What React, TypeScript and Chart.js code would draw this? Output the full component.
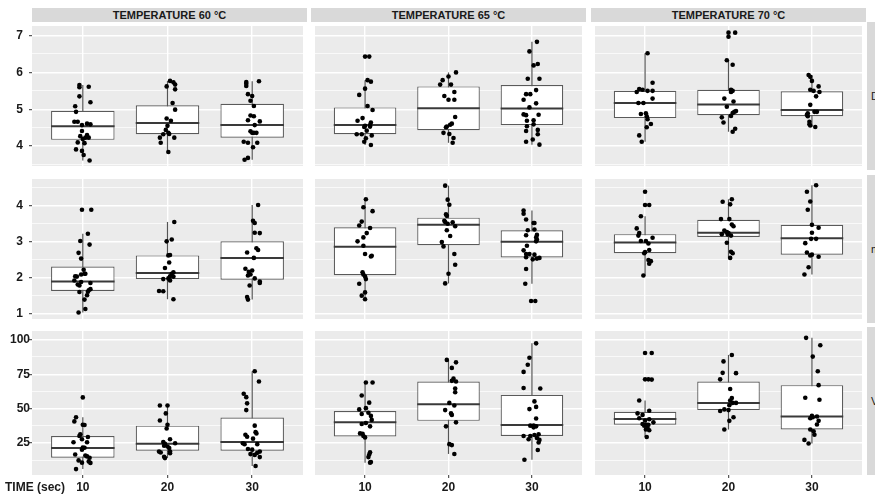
import React, { useEffect, useRef } from 'react';
import { Chart, registerables } from 'chart.js';
Chart.register(...registerables);

// ---------- labels ----------
const TIMES = ['10', '20', '30'];
const TEMPS = ['TEMPERATURE 60 °C', 'TEMPERATURE 65 °C', 'TEMPERATURE 70 °C'];
const ROW_LABELS = ['D', 'm', 'V'];
const X_TITLE = 'TIME (sec)';

// ---------- tick values ----------
const D_MAJOR = [4, 5, 6, 7];
const D_MINOR = [3.5, 4.5, 5.5, 6.5];
const M_MAJOR = [1, 2, 3, 4];
const M_MINOR = [1.5, 2.5, 3.5, 4.5];
const V_MAJOR = [25, 50, 75, 100];
const V_MINOR = [12.5, 37.5, 62.5, 87.5];

// ---------- box stats [lower whisker, q1, median, q3, upper whisker] for 10 / 20 / 30 s ----------
const D60_BOX = [[3.61, 4.17, 4.54, 4.96, 5.66], [3.84, 4.32, 4.63, 5.11, 5.77], [3.63, 4.23, 4.57, 5.15, 5.76]];
const D65_BOX = [[4.03, 4.32, 4.57, 5.05, 5.79], [4.09, 4.43, 5.03, 5.62, 6.0], [4.04, 4.57, 5.02, 5.66, 6.83]];
const D70_BOX = [[4.12, 4.76, 5.17, 5.50, 6.52], [4.39, 4.84, 5.13, 5.53, 6.33], [4.52, 4.81, 4.98, 5.49, 5.93]];
const M60_BOX = [[1.03, 1.63, 1.89, 2.31, 3.22], [1.40, 1.96, 2.13, 2.62, 3.55], [1.39, 1.94, 2.55, 3.01, 4.02]];
const M65_BOX = [[1.40, 2.07, 2.86, 3.40, 4.18], [1.84, 2.90, 3.47, 3.67, 4.56], [1.83, 2.56, 3.00, 3.32, 3.87]];
const M70_BOX = [[2.06, 2.68, 2.98, 3.21, 3.71], [2.55, 3.13, 3.25, 3.61, 4.18], [2.09, 2.64, 3.10, 3.47, 4.57]];
const V60_BOX = [[6.2, 14.4, 21.5, 30.2, 43.8], [14.2, 19.6, 24.5, 37.7, 52.3], [8.5, 19.6, 25.9, 43.6, 77.2]];
const V65_BOX = [[10.9, 29.9, 40.1, 48.3, 69.0], [17.2, 41.2, 53.2, 69.7, 85.4], [13.0, 30.2, 38.2, 60.0, 97.4]];
const V70_BOX = [[29.5, 38.4, 42.6, 47.8, 56.0], [34.9, 49.0, 54.2, 69.7, 89.0], [24.8, 34.9, 44.3, 67.1, 101.4]];

// ---------- observations (values) and their horizontal jitter (category units) ----------
const D60_Y = [
  [5.66, 5.60, 5.61, 5.35, 5.19, 5.08, 4.93, 4.66, 4.66, 4.61, 4.57, 4.59, 4.41, 4.27, 4.30, 4.23, 4.19, 4.23, 4.10, 4.08, 3.91, 3.87, 3.76, 3.61],
  [5.77, 5.73, 5.67, 5.62, 5.54, 5.17, 4.99, 4.75, 4.69, 4.55, 4.44, 4.32, 4.36, 4.33, 4.23, 4.23, 4.09, 3.84],
  [5.74, 5.69, 5.63, 5.76, 5.41, 5.36, 5.23, 5.09, 4.83, 4.81, 4.70, 4.67, 4.57, 4.40, 4.36, 4.36, 4.36, 4.12, 4.09, 4.09, 3.97, 3.68, 3.63],
];
const D60_J = [
  [-0.04, -0.04, 0.07, -0.04, 0.09, -0.09, -0.08, -0.1, -0.06, 0.05, -0.01, 0.09, -0.01, -0.03, 0.05, 0.03, 0, 0.07, -0.06, 0.02, -0.08, -0.01, 0.01, 0.08],
  [0.03, 0.07, 0.09, -0.01, 0.09, 0.06, 0.09, -0.01, 0.04, 0, -0.02, -0.05, 0.01, 0.02, -0.09, 0.08, -0.08, 0.01],
  [-0.07, -0.07, -0.07, 0.08, -0.05, 0, -0.02, 0.02, -0.02, 0.02, -0.05, 0.09, 0.03, -0.02, 0, 0.05, 0.02, -0.10, -0.05, 0.06, 0.01, -0.05, -0.09],
];
const D65_Y = [
  [6.43, 6.43, 5.79, 5.75, 5.56, 5.39, 5.09, 4.98, 4.76, 4.69, 4.64, 4.57, 4.55, 4.52, 4.53, 4.42, 4.29, 4.32, 4.32, 4.21, 4.12, 4.03],
  [6.0, 5.89, 5.79, 5.67, 5.67, 5.47, 5.36, 5.26, 5.26, 4.79, 4.61, 4.58, 4.53, 4.51, 4.36, 4.33, 4.22, 4.09],
  [6.83, 6.57, 6.19, 6.23, 5.83, 5.83, 5.52, 5.41, 5.41, 5.26, 5.16, 5.05, 4.86, 4.84, 4.85, 4.70, 4.69, 4.54, 4.59, 4.44, 4.41, 4.32, 4.18, 4.12, 4.04],
];
const D65_J = [
  [0, 0.05, 0.03, 0.07, 0, -0.07, 0.03, 0.09, -0.03, -0.09, 0.07, 0.06, 0, -0.01, 0.06, 0.02, 0.08, -0.10, -0.04, 0.01, -0.01, 0.07],
  [0.09, 0, -0.07, -0.1, 0.03, 0.07, -0.05, 0, 0.07, 0.08, 0.04, 0.02, -0.02, -0.03, -0.06, 0.01, 0.06, 0.05],
  [0.06, -0.03, 0.02, 0.07, -0.05, 0.09, 0.05, -0.02, -0.07, -0.10, 0.05, -0.03, -0.10, -0.07, 0.08, 0.02, -0.06, -0.06, 0.02, 0.07, -0.07, 0.07, 0.01, -0.07, 0.09],
];
const D70_Y = [
  [6.52, 5.72, 5.55, 5.53, 5.47, 5.50, 5.50, 5.29, 5.17, 5.17, 4.87, 4.89, 4.81, 4.73, 4.60, 4.51, 4.29, 4.12],
  [7.08, 7.08, 6.97, 6.33, 6.21, 5.53, 5.50, 5.47, 5.29, 5.21, 5.07, 4.95, 4.93, 4.90, 4.82, 4.78, 4.64, 4.47, 4.39],
  [5.93, 5.88, 5.77, 5.62, 5.53, 5.50, 5.47, 5.35, 5.12, 4.93, 4.93, 4.89, 4.85, 4.81, 4.66, 4.59, 4.56, 4.52],
];
const D70_J = [
  [0.03, 0.09, -0.07, -0.03, -0.10, 0.03, 0.09, 0.09, -0.08, -0.02, -0.05, 0.01, 0.02, 0.03, 0.07, 0.02, -0.07, -0.04],
  [0, 0.08, 0, -0.02, 0.05, 0.03, 0.05, 0.03, -0.05, 0.06, -0.02, 0.09, 0.07, 0.05, 0.03, -0.08, -0.06, 0.08, 0.05],
  [-0.04, -0.02, 0, 0.08, -0.02, 0.02, 0.09, 0.05, -0.02, 0.03, 0.06, -0.05, -0.06, -0.05, -0.03, -0.03, -0.02, 0.04],
];
const M60_Y = [
  [3.89, 3.89, 3.22, 3.02, 2.92, 2.69, 2.53, 2.22, 2.11, 2.09, 2.11, 2.04, 2.03, 1.92, 1.88, 1.85, 1.81, 1.78, 1.65, 1.68, 1.60, 1.61, 1.51, 1.39, 1.13, 1.03],
  [3.55, 3.06, 3.01, 2.63, 2.62, 2.42, 2.27, 2.15, 2.11, 2.04, 2.03, 1.96, 1.98, 1.92, 1.63, 1.62, 1.40],
  [4.02, 3.58, 3.52, 3.25, 3.24, 2.82, 2.77, 2.70, 2.55, 2.25, 2.20, 2.16, 2.09, 2.06, 1.98, 1.89, 1.85, 1.78, 1.46, 1.39],
];
const M60_J = [
  [-0.01, 0.1, 0.06, -0.03, 0.08, -0.05, -0.02, 0.01, 0.02, -0.02, 0.03, -0.09, -0.07, -0.10, -0.02, 0.09, -0.06, -0.04, 0.07, 0.09, -0.04, 0.06, 0.05, 0.02, 0.03, -0.05],
  [0.08, 0.05, -0.01, 0.03, 0.01, 0.02, -0.03, 0.07, 0.05, 0.03, 0.07, -0.05, 0.01, 0.03, -0.10, -0.05, 0.07],
  [0.07, 0.01, 0.03, 0.03, 0.09, 0.05, 0.07, -0.06, 0.02, -0.08, 0, -0.04, -0.02, -0.05, 0.03, 0.09, 0.09, -0.03, -0.06, -0.05],
];
const M65_Y = [
  [4.18, 3.96, 3.85, 3.56, 3.45, 3.38, 3.24, 3.12, 3.01, 2.89, 2.66, 2.61, 2.59, 2.15, 2.09, 2.03, 1.96, 1.83, 1.59, 1.50, 1.40],
  [4.56, 4.17, 4.03, 3.76, 3.72, 3.58, 3.55, 3.54, 3.50, 3.43, 3.32, 3.16, 2.99, 2.87, 2.66, 2.36, 2.11, 1.84],
  [3.87, 3.78, 3.62, 3.52, 3.52, 3.32, 3.34, 3.19, 3.18, 3.12, 3.06, 3.01, 2.89, 2.76, 2.66, 2.66, 2.64, 2.57, 2.55, 2.51, 2.53, 2.24, 1.83, 1.35, 1.35],
];
const M65_J = [
  [0.01, -0.02, 0.09, -0.04, -0.07, 0.06, 0.02, -0.02, -0.09, -0.02, 0, 0.08, 0.07, -0.03, -0.02, 0, 0.01, -0.07, 0, -0.04, 0],
  [-0.04, -0.01, 0.01, -0.03, -0.02, -0.05, -0.04, 0.05, -0.01, 0.08, -0.02, 0.02, -0.08, -0.06, 0.07, 0.08, 0, -0.04],
  [-0.10, -0.10, -0.07, 0.02, 0.03, -0.05, 0.03, 0.06, -0.07, 0.05, 0.06, 0.05, -0.06, -0.10, -0.07, -0.03, 0.03, -0.07, 0.09, 0.01, 0.06, -0.07, -0.08, -0.01, 0.04],
];
const M70_Y = [
  [4.39, 4.02, 4.02, 3.71, 3.37, 3.24, 3.17, 3.11, 3.02, 3.02, 2.95, 2.77, 2.71, 2.68, 2.49, 2.46, 2.39, 2.06],
  [4.11, 4.18, 4.04, 3.63, 3.63, 3.48, 3.43, 3.31, 3.27, 3.24, 3.20, 3.17, 3.21, 2.97, 2.72, 2.68, 2.55],
  [4.57, 4.39, 4.12, 3.89, 3.47, 3.39, 3.25, 3.08, 3.08, 2.96, 2.70, 2.62, 2.64, 2.58, 2.29, 2.09],
];
const M70_J = [
  [0, 0, 0.05, -0.05, -0.10, -0.07, -0.08, 0.09, -0.05, 0.01, 0.04, 0.05, 0, -0.01, 0.04, 0.07, 0.05, -0.02],
  [-0.07, 0.04, 0.02, -0.09, 0.01, 0.04, 0.06, -0.05, -0.02, 0, -0.01, 0.03, -0.08, -0.02, 0.03, 0.05, 0.02],
  [0.05, -0.06, -0.02, -0.05, 0, 0.08, 0, -0.01, 0.05, -0.08, -0.06, -0.02, 0, 0.08, -0.04, -0.09],
];
const V60_Y = [
  [58.2, 43.8, 40.8, 38.4, 38.2, 31.4, 29.5, 30.2, 27.8, 25.7, 25.7, 21.9, 21.7, 20.3, 16.8, 16.1, 15.4, 14.4, 12.5, 10.9, 10.7, 11.8, 6.2],
  [52.3, 52.3, 46.6, 41.5, 38.4, 35.6, 27.8, 25.9, 25.0, 24.5, 23.1, 22.6, 21.5, 18.9, 18.9, 18.2, 17.7, 15.1, 14.2],
  [77.2, 69.7, 60.8, 58.4, 53.9, 49.0, 37.7, 33.0, 32.1, 31.1, 29.7, 28.3, 25.0, 24.3, 24.3, 20.8, 20.3, 18.9, 18.0, 17.1, 16.5, 14.9, 8.5],
];
const V60_J = [
  [0, -0.08, -0.10, 0, 0.02, -0.03, 0.06, -0.04, -0.01, -0.11, 0.05, 0, 0.02, -0.01, -0.09, 0.03, 0.05, 0.08, -0.05, -0.01, 0.09, 0.07, -0.08],
  [-0.09, 0, -0.02, -0.09, 0, -0.01, 0.03, -0.05, 0.09, -0.03, -0.04, 0, 0.02, -0.10, 0.03, -0.08, 0.03, -0.04, -0.03],
  [0.03, 0.08, -0.10, -0.07, -0.06, -0.07, 0.03, 0.04, 0.05, -0.08, -0.06, 0.01, -0.11, -0.09, 0.06, -0.05, 0, 0.09, 0.06, -0.02, 0.03, 0.09, 0.04],
];
const V65_Y = [
  [69.0, 69.0, 59.6, 54.4, 49.5, 50.4, 46.2, 47.1, 44.8, 41.9, 38.9, 39.6, 37.2, 32.1, 31.8, 30.2, 29.2, 18.4, 16.8, 14.9, 11.4, 10.9],
  [85.4, 83.6, 79.6, 71.8, 70.2, 69.7, 64.7, 61.9, 54.2, 52.3, 49.0, 46.6, 45.5, 40.1, 37.2, 24.3, 23.6, 17.2],
  [97.4, 86.9, 81.9, 76.7, 65.0, 64.7, 55.3, 51.3, 49.7, 42.9, 37.7, 37.7, 37.2, 36.5, 30.2, 30.2, 30.9, 31.4, 28.8, 27.8, 27.4, 25.5, 20.1, 13.0],
];
const V65_J = [
  [0.01, 0.09, -0.04, 0.05, -0.07, 0.01, -0.04, 0.04, 0.07, 0.08, -0.04, 0.01, 0.06, -0.06, -0.03, -0.02, 0, 0.06, 0.05, 0.04, 0.07, 0.06],
  [-0.02, 0.09, 0.04, 0.06, 0.04, 0.09, 0.08, 0.08, 0.01, 0.07, -0.04, 0.03, 0.04, 0.09, -0.03, 0.01, 0.04, 0.07],
  [0.05, -0.03, -0.05, -0.10, -0.10, 0.10, 0.03, 0.05, -0.03, 0.05, -0.02, 0.02, 0.05, 0.02, -0.10, -0.02, 0.03, 0.08, 0.06, -0.04, 0.09, 0.08, 0.07, -0.09],
];
const V70_Y = [
  [90.4, 90.4, 71.3, 71.3, 71.1, 56.0, 48.5, 46.6, 45.5, 43.1, 42.4, 41.5, 40.1, 38.9, 38.6, 38.4, 37.7, 36.1, 34.9, 34.4, 29.5],
  [89.0, 84.3, 76.0, 75.8, 71.3, 64.3, 57.7, 56.0, 54.2, 54.2, 52.5, 49.5, 48.3, 49.0, 43.8, 41.2, 34.9],
  [101.4, 96.0, 87.8, 77.2, 67.1, 57.9, 56.5, 44.8, 43.8, 44.3, 43.1, 41.2, 38.6, 34.9, 33.7, 31.1, 27.4, 24.8],
];
const V70_J = [
  [0, 0.08, 0, 0.04, 0.08, -0.07, 0.05, -0.09, -0.03, -0.07, 0.05, 0, 0.10, -0.03, 0.01, 0.04, -0.01, 0.03, 0.01, 0.05, 0.02],
  [0.04, -0.06, -0.07, 0.09, -0.10, 0.02, 0.04, 0.02, 0.09, 0.05, 0.01, -0.05, -0.10, 0, 0.06, 0.01, -0.05],
  [-0.07, 0.10, 0.01, 0.07, 0.08, -0.08, 0.09, 0, 0.01, 0.06, -0.02, 0.08, 0.06, -0.02, 0.02, 0.03, -0.09, -0.04],
];

// ---------- layout ----------
const W = 875;
const H = 497;
const COL_X = [[32, 307], [311, 586], [591, 866]];
const ROW_Y = [[22, 170], [175, 323], [327, 475]];
const FONT = "'Liberation Sans', Arial, sans-serif";
const BOX_W = 0.75;

const ROWS = [
  { min: 3.46, max: 7.26, major: D_MAJOR, minor: D_MINOR, pad: 6, panels: [[D60_BOX, D60_Y, D60_J], [D65_BOX, D65_Y, D65_J], [D70_BOX, D70_Y, D70_J]] },
  { min: 0.85, max: 4.745, major: M_MAJOR, minor: M_MINOR, pad: 6, panels: [[M60_BOX, M60_Y, M60_J], [M65_BOX, M65_Y, M65_J], [M70_BOX, M70_Y, M70_J]] },
  { min: 1.93, max: 106.35, major: V_MAJOR, minor: V_MINOR, pad: -1, panels: [[V60_BOX, V60_Y, V60_J], [V65_BOX, V65_Y, V65_J], [V70_BOX, V70_Y, V70_J]] },
];

const bgPlugin = {
  id: 'panelBg',
  beforeDraw(chart: any) {
    const { ctx, chartArea: a } = chart;
    ctx.save();
    ctx.fillStyle = '#ebebeb';
    ctx.fillRect(a.left, a.top, a.right - a.left, a.bottom - a.top);
    ctx.restore();
  },
};

function Panel({ row, col }: { row: number; col: number }) {
  const ref = useRef<HTMLCanvasElement>(null);
  const left = col === 0 ? 0 : COL_X[col][0];
  const width = COL_X[col][1] - left;
  const top = ROW_Y[row][0];
  const height = (row === 2 ? H : ROW_Y[row][1]) - top;

  useEffect(() => {
    const R = ROWS[row];
    const [box, ys, js] = R.panels[col] as [number[][], number[][], number[][]];
    const datasets: any[] = [];
    const pts: { x: number; y: number }[] = [];
    ys.forEach((arr, t) => arr.forEach((v, i) => pts.push({ x: t + 1 + js[t][i], y: v })));
    datasets.push({
      type: 'scatter', data: pts, backgroundColor: '#000', borderWidth: 0, pointRadius: 2.3, order: 1,
    });
    box.forEach((b, t) => {
      datasets.push({
        type: 'line', data: [{ x: t + 1 - BOX_W / 2, y: b[2] }, { x: t + 1 + BOX_W / 2, y: b[2] }],
        borderColor: '#3a3a3a', borderWidth: 2, pointRadius: 0, order: 2,
      });
      datasets.push({
        type: 'line', data: [{ x: t + 1, y: b[0] }, { x: t + 1, y: b[4] }],
        borderColor: '#555', borderWidth: 1.2, pointRadius: 0, order: 5,
      });
    });
    datasets.push({
      type: 'bar', data: box.map((b, t) => ({ x: t + 1, y: [b[1], b[3]] })),
      backgroundColor: '#ffffff', borderColor: '#5a5a5a', borderWidth: 1.2, borderSkipped: false,
      barPercentage: BOX_W, categoryPercentage: 1, grouped: false, order: 4,
    });

    const isMajor = (v: number) => R.major.includes(v);
    const yTicks = [...R.major, ...R.minor].filter((v) => v >= R.min && v <= R.max).sort((a, b) => a - b);

    const chart = new Chart(ref.current!, {
      type: 'scatter',
      data: { datasets },
      plugins: [bgPlugin],
      options: {
        animation: false,
        responsive: false,
        events: [],
        layout: { padding: 0 },
        plugins: { legend: { display: false }, tooltip: { enabled: false } },
        scales: {
          x: {
            type: 'linear', min: 0.4, max: 3.6, offset: false,
            afterBuildTicks: (s: any) => { s.ticks = TIMES.map((_, i) => ({ value: i + 1 })); },
            afterFit: (s: any) => { s.height = row === 2 ? H - ROW_Y[2][1] : 0; s.paddingLeft = 0; s.paddingRight = 0; },
            border: { display: false },
            grid: { color: '#ffffff', lineWidth: 1.4, offset: false, drawTicks: row === 2, tickLength: 3, tickColor: '#333', tickWidth: 1 },
            ticks: {
              display: row === 2, autoSkip: false, maxRotation: 0, padding: 2, color: '#1a1a1a',
              font: { family: FONT, size: 12, weight: 'bold' },
              callback: (v: any) => TIMES[Math.round(v) - 1],
            },
          },
          y: {
            type: 'linear', min: R.min, max: R.max,
            afterBuildTicks: (s: any) => { s.ticks = yTicks.map((v) => ({ value: v })); },
            afterFit: (s: any) => { s.width = col === 0 ? COL_X[0][0] : 0; s.paddingTop = 0; s.paddingBottom = 0; },
            border: { display: false },
            grid: {
              color: '#ffffff',
              lineWidth: (c: any) => (c.tick && isMajor(c.tick.value) ? 1.4 : 0.7),
              drawTicks: col === 0, tickLength: 3, tickWidth: 1,
              tickColor: (c: any) => (c.tick && isMajor(c.tick.value) ? '#333' : 'rgba(0,0,0,0)'),
            },
            ticks: {
              display: col === 0, autoSkip: false, padding: R.pad, color: '#1a1a1a',
              font: { family: FONT, size: 12, weight: 'bold' },
              callback: (v: any) => (isMajor(v) ? String(v) : ''),
            },
          },
        },
      } as any,
    });
    return () => chart.destroy();
  }, [row, col]);

  return (
    <canvas ref={ref} width={width} height={height}
      style={{ position: 'absolute', left, top, width, height }} />
  );
}

export default function App() {
  return (
    <div style={{ position: 'absolute', left: 0, top: 0, width: W, height: H, overflow: 'hidden', background: '#fff', fontFamily: FONT }}>
      {TEMPS.map((t, c) => (
        <div key={t} style={{
          position: 'absolute', left: COL_X[c][0], top: 8, width: COL_X[c][1] - COL_X[c][0], height: 14,
          background: '#d9d9d9', color: '#1a1a1a', fontWeight: 'bold', fontSize: 11, lineHeight: '14px', textAlign: 'center',
        }}>{t}</div>
      ))}
      {ROW_LABELS.map((l, r) => (
        <div key={l} style={{
          position: 'absolute', left: 867, top: ROW_Y[r][0], width: 30, height: ROW_Y[r][1] - ROW_Y[r][0],
          background: '#d9d9d9', color: '#1a1a1a', fontSize: 11, display: 'flex', alignItems: 'center', paddingLeft: 4, boxSizing: 'border-box',
        }}>{l}</div>
      ))}
      {[0, 1, 2].map((r) => [0, 1, 2].map((c) => <Panel key={`${r}-${c}`} row={r} col={c} />))}
      <div style={{
        position: 'absolute', left: 5, top: 479, fontSize: 12, fontWeight: 'bold', color: '#1a1a1a', lineHeight: '16px', whiteSpace: 'nowrap',
      }}>{X_TITLE}</div>
    </div>
  );
}
